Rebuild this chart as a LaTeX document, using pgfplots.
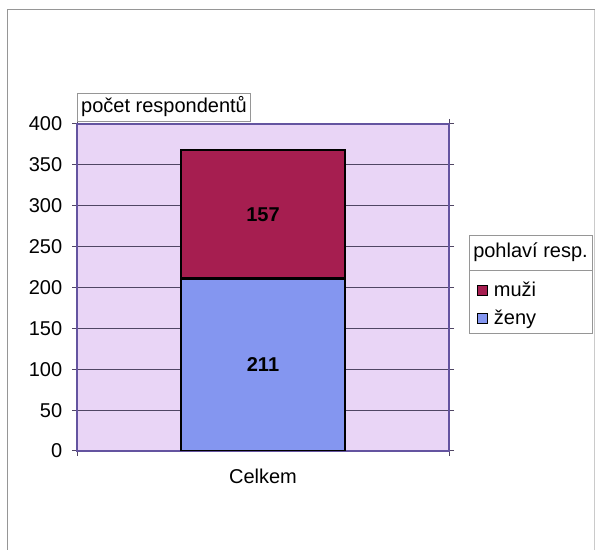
\documentclass[border=0pt]{standalone}
\usepackage{pgfplots}
\pgfplotsset{compat=1.18}
\usepackage{fontspec}
\setmainfont{Liberation Sans}

\definecolor{muzi}{RGB}{166,30,80}
\definecolor{zeny}{RGB}{132,150,240}
\definecolor{plotbg}{RGB}{233,213,246}
\definecolor{axisline}{RGB}{100,84,160}
\definecolor{gridc}{RGB}{80,70,100}
\definecolor{framec}{RGB}{150,150,150}

\begin{document}
\fontsize{20bp}{23bp}\selectfont
\begin{tikzpicture}[x=1bp,y=1bp]
\path[use as bounding box] (0,0) rectangle (595,550);
% outer chart frame
\draw[framec, line width=1bp] (7,-5) -- (7,540) -- (600,540);
\draw[framec!50, line width=0.8bp] (594.5,540) -- (594.5,-5);

\begin{axis}[
  at={(77bp,99bp)}, anchor=south west,
  scale only axis, width=372bp, height=327bp,
  ybar stacked, bar width=0.44,
  xmin=-0.5, xmax=0.5, ymin=0, ymax=400,
  axis background/.style={fill=plotbg},
  axis line style={axisline, line width=1.3bp},
  ytick={0,50,...,400},
  ymajorgrids,
  grid style={gridc, line width=1bp},
  xtick={-0.5,0.5}, xticklabels={},
  extra x ticks={0}, extra x tick labels={Celkem},
  extra x tick style={major tick length=0pt, grid=none},
  tick align=outside, major tick length=5bp,
  tick style={gridc, line width=1bp},
  ticklabel style={font=\fontsize{20bp}{23bp}\selectfont},
  yticklabel style={xshift=-3bp},
  xticklabel style={yshift=-11bp},
  /pgf/number format/assume math mode=true,
  legend cell align=left,
  reverse legend,
  legend style={draw=none, fill=none, at={(rel axis cs:1.066,0.531)}, anchor=north west,
    font=\fontsize{20bp}{23bp}\selectfont, row sep=7bp,
    nodes={inner sep=2bp},
    /tikz/every odd column/.append style={column sep=4bp}},
  /pgfplots/legend image code/.code={\draw[#1, draw=black, line width=1.2bp] (0bp,-5bp) rectangle (10bp,5bp);},
]
\addplot[fill=zeny, draw=black, line width=2.5bp] coordinates {(0,211)};
\addlegendentry{ženy}
\addplot[fill=muzi, draw=black, line width=2.5bp] coordinates {(0,157)};
\addlegendentry{muži}
\coordinate (zenyc) at (axis cs:0,105.5);
\coordinate (muzic) at (axis cs:0,289.5);
\end{axis}

% segment values
\node[font=\bfseries\fontsize{20bp}{23bp}\selectfont] at (zenyc) {211};
\node[font=\bfseries\fontsize{20bp}{23bp}\selectfont] at (muzic) {157};

% axis title box
\draw[framec, fill=white, line width=0.8bp] (77,429) rectangle (250,457);
\node[anchor=west, inner sep=0pt] at (81,443) {počet respondentů};

% legend frame and title
\draw[framec, line width=0.8bp] (469,217) rectangle (592,315);
\draw[framec, line width=0.8bp] (469,280) -- (592,280);
\node[inner sep=0pt] at (530.5,297.5) {pohlaví resp.};
\end{tikzpicture}
\end{document}
